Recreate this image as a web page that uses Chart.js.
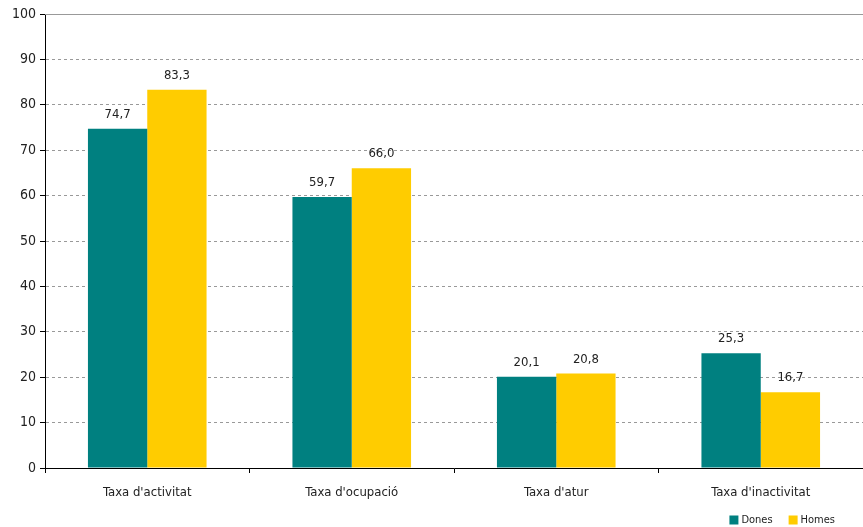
<!DOCTYPE html>
<html>
<head>
<meta charset="utf-8">
<script src="https://cdn.jsdelivr.net/npm/chart.js@4/dist/chart.umd.min.js"></script>
<style>
  html, body { margin: 0; padding: 0; background: #fff; }
  #wrap { width: 863px; height: 527px; }
</style>
</head>
<body>
<div id="wrap"><canvas id="taxesChart" width="863" height="527"></canvas></div>
<script>
const categories = ["Taxa d'activitat", "Taxa d'ocupació", "Taxa d'atur", "Taxa d'inactivitat"];
const dones = [74.7, 59.7, 20.1, 25.3];
const homes = [83.3, 66.0, 20.8, 16.7];
const yTicks = [0, 10, 20, 30, 40, 50, 60, 70, 80, 90, 100];

const FONT = "'Liberation Sans Narrow', 'Arial Narrow', 'DejaVu Sans Condensed', sans-serif";
const TEXT = "#222";

// values written above each bar, with a comma as decimal mark
const barValues = {
  id: "barValues",
  afterDatasetsDraw(chart) {
    const ctx = chart.ctx;
    ctx.save();
    ctx.font = "13px " + FONT;
    ctx.fillStyle = TEXT;
    ctx.textAlign = "center";
    ctx.textBaseline = "alphabetic";
    chart.data.datasets.forEach((ds, i) => {
      chart.getDatasetMeta(i).data.forEach((bar, j) => {
        ctx.fillText(ds.data[j].toFixed(1).replace(".", ","), bar.x, bar.y - 11);
      });
    });
    ctx.restore();
  }
};

// solid line along the top of the plot
const topLine = {
  id: "topLine",
  beforeDatasetsDraw(chart) {
    const { ctx, chartArea } = chart;
    ctx.save();
    ctx.strokeStyle = "#999";
    ctx.lineWidth = 1;
    ctx.beginPath();
    ctx.moveTo(chartArea.left, chartArea.top + 0.5);
    ctx.lineTo(chartArea.right, chartArea.top + 0.5);
    ctx.stroke();
    ctx.restore();
  }
};

// small legend in the bottom right corner
const cornerLegend = {
  id: "cornerLegend",
  afterDraw(chart) {
    const ctx = chart.ctx;
    const box = 9, gapText = 3, gapItem = 16, rightEdge = chart.width - 28, cy = 520;
    ctx.save();
    ctx.font = "11px " + FONT;
    ctx.textBaseline = "middle";
    ctx.textAlign = "left";
    const items = chart.data.datasets.map(ds => ({ label: ds.label, color: ds.backgroundColor, w: ctx.measureText(ds.label).width }));
    let total = 0;
    items.forEach((it, i) => { total += box + gapText + it.w + (i ? gapItem : 0); });
    let x = rightEdge - total;
    items.forEach(it => {
      ctx.fillStyle = it.color;
      ctx.fillRect(x, cy - 4.5, box, box);
      ctx.fillStyle = TEXT;
      ctx.fillText(it.label, x + box + gapText, cy + 0.5);
      x += box + gapText + it.w + gapItem;
    });
    ctx.restore();
  }
};

new Chart(document.getElementById("taxesChart"), {
  type: "bar",
  data: {
    labels: categories,
    datasets: [
      { label: "Dones", data: dones, backgroundColor: "#008080" },
      { label: "Homes", data: homes, backgroundColor: "#FFCC00" }
    ]
  },
  options: {
    responsive: false,
    animation: false,
    devicePixelRatio: 1,
    layout: { padding: { top: 14, right: 0, left: 0, bottom: 24 } },
    datasets: { bar: { categoryPercentage: 0.58, barPercentage: 1 } },
    plugins: {
      tooltip: { enabled: false },
      legend: { display: false }
    },
    scales: {
      x: {
        grid: {
          offset: true,
          drawOnChartArea: false,
          drawTicks: true,
          tickLength: 5,
          tickColor: "#000"
        },
        border: { display: true, color: "#000" },
        ticks: {
          font: { family: FONT, size: 13 },
          color: TEXT,
          padding: 12
        },
        afterFit(scale) { scale.height = 35; }
      },
      y: {
        min: 0,
        max: 100,
        afterBuildTicks(scale) { scale.ticks = yTicks.map(v => ({ value: v })); },
        grid: {
          color: "#999",
          tickColor: "#000",
          tickLength: 5,
          drawTicks: true
        },
        border: { display: true, color: "#000", dash: [3, 3] },
        ticks: {
          font: { family: FONT, size: 14 },
          color: TEXT,
          padding: 4
        },
        afterFit(scale) { scale.width = 45; }
      }
    }
  },
  plugins: [topLine, barValues, cornerLegend]
});
</script>
</body>
</html>
